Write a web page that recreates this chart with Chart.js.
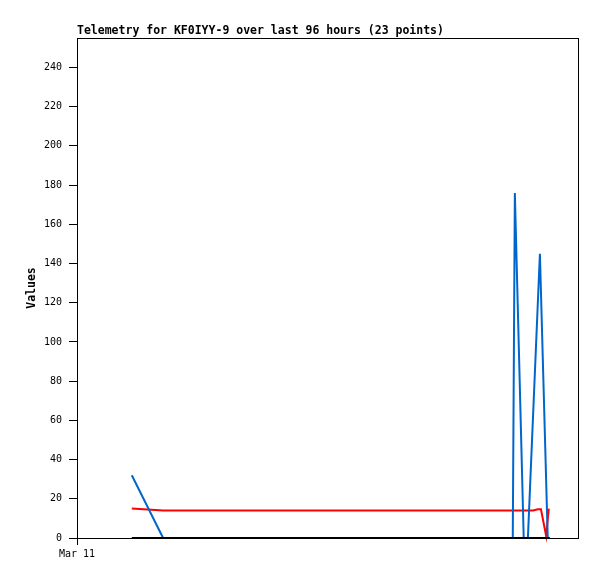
<!DOCTYPE html>
<html>
<head>
<meta charset="utf-8">
<script src="https://cdn.jsdelivr.net/npm/chart.js@4/dist/chart.umd.min.js"></script>
<style>
  html, body { margin: 0; padding: 0; background: #fff; }
  canvas { display: block; }
</style>
</head>
<body>
<canvas id="telemetryChart" width="597" height="579"></canvas>
<script>
// hours since the left edge of the window (Mar 11)
const blueHours  = [10.5, 16.5, 83.5, 83.9, 85.6, 86.4, 88.7, 90.2];
const blueValues = [32,   0,    0,    176,  0,    0,    145,  0];

const redHours  = [10.5, 16.5, 87.4, 88.3, 88.9, 89.9, 90.4];
const redValues = [15,   14,   14,   14.6, 14.6, 1,    15];

const blackHours  = [10.5, 90.6];
const blackValues = [0,    0];

const xTickLabels = ["Mar 11"];
const chartTitle = "Telemetry for KF0IYY-9 over last 96 hours (23 points)";

const toPoints = (xs, ys) => xs.map((x, i) => ({ x: x, y: ys[i] }));

const monoFont = '"DejaVu Sans Mono", "Liberation Mono", monospace';

// frame round the plot + title on the plot's left edge
const framePlugin = {
  id: "frame",
  afterDraw(chart) {
    const { ctx, chartArea } = chart;
    ctx.save();
    ctx.strokeStyle = "#000";
    ctx.lineWidth = 1;
    ctx.strokeRect(Math.round(chartArea.left) + 0.5, Math.round(chartArea.top) + 0.5,
      Math.round(chartArea.right - chartArea.left), Math.round(chartArea.bottom - chartArea.top));
    ctx.fillStyle = "#000";
    ctx.font = "bold 11.5px " + monoFont;
    ctx.textBaseline = "alphabetic";
    ctx.textAlign = "left";
    ctx.fillText(chartTitle, chartArea.left, chartArea.top - 4);
    ctx.restore();
  }
};

new Chart(document.getElementById("telemetryChart").getContext("2d"), {
  type: "line",
  data: {
    datasets: [
      {
        label: "black",
        data: toPoints(blackHours, blackValues),
        borderColor: "#000000",
        borderWidth: 2,
        order: 0
      },
      {
        label: "blue",
        data: toPoints(blueHours, blueValues),
        borderColor: "#0066cc",
        borderWidth: 2,
        order: 1
      },
      {
        label: "red",
        data: toPoints(redHours, redValues),
        borderColor: "#ff0000",
        borderWidth: 2,
        order: 2
      }
    ]
  },
  options: {
    responsive: false,
    animation: false,
    clip: false,
    elements: {
      point: { radius: 0 },
      line: { tension: 0, borderCapStyle: "butt" }
    },
    layout: { padding: { top: 38, right: 19, bottom: 0, left: 0 } },
    plugins: {
      legend: { display: false },
      tooltip: { enabled: false },
      title: { display: false }
    },
    scales: {
      x: {
        type: "linear",
        min: 0,
        max: 96,
        afterFit: s => { s.height = 41; },
        afterBuildTicks: s => { s.ticks = xTickLabels.map((_, i) => ({ value: i * 24 })); },
        border: { display: false },
        grid: { drawOnChartArea: false, drawTicks: true, tickLength: 7, color: "#000" },
        ticks: {
          padding: 3,
          maxRotation: 0,
          color: "#000",
          font: { family: monoFont, size: 10 },
          callback: (v, i) => xTickLabels[i]
        }
      },
      y: {
        min: 0,
        max: 255,
        afterFit: s => { s.width = 77; },
        border: { display: false },
        grid: { drawOnChartArea: false, drawTicks: true, tickLength: 8, color: "#000" },
        ticks: {
          stepSize: 20,
          includeBounds: false,
          padding: 7,
          color: "#000",
          font: { family: monoFont, size: 10 }
        },
        title: {
          display: true,
          text: "Values",
          color: "#000",
          font: { family: monoFont, size: 11.5, weight: "bold" },
          padding: { top: 25, bottom: 0 }
        }
      }
    }
  },
  plugins: [framePlugin]
});
</script>
</body>
</html>
